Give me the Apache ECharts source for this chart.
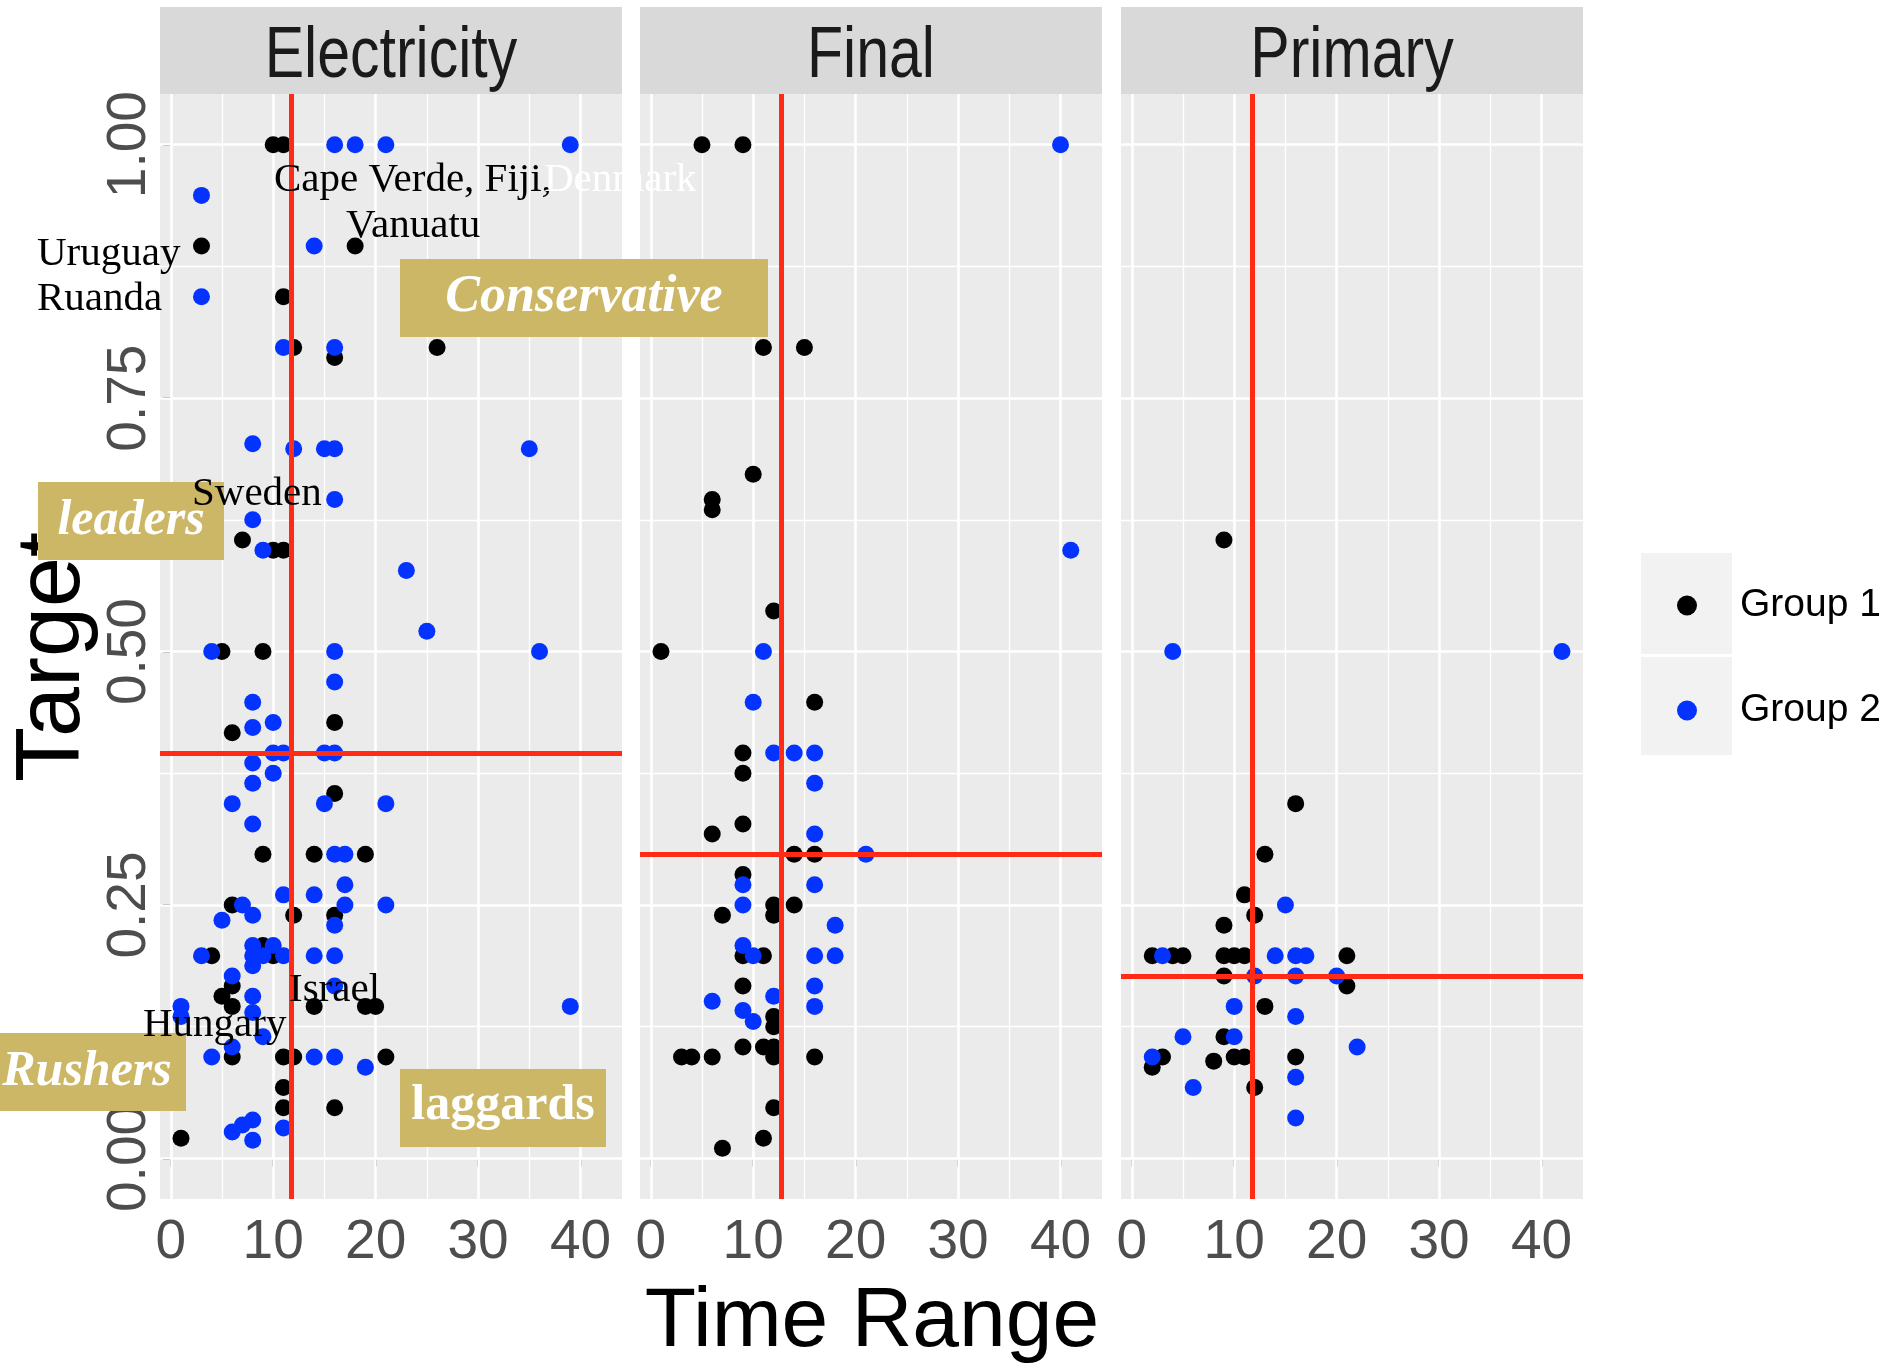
<!DOCTYPE html>
<html><head><meta charset="utf-8">
<script src="https://cdn.jsdelivr.net/npm/echarts@6/dist/echarts.min.js"></script>
<style>html,body{margin:0;padding:0;background:#fff;}#chart{width:1886px;height:1372px;}</style>
</head><body><div id="chart"></div>
<script>
// ---------- data ----------
const panelNames = ['Electricity', 'Final', 'Primary'];
const groupNames = ['Group 1', 'Group 2'];
const xTicks = [0, 10, 20, 30, 40];
const xMinorTicks = [5, 15, 25, 35];
const yTicks = [0, 0.25, 0.5, 0.75, 1];
const yMinorTicks = [0.125, 0.375, 0.625, 0.875];
const xRange = [-1.05, 44.05];
const yRange = [-0.04, 1.05];

const elecGroup1 = [
  [10,1.00],[11,1.00],[3,0.90],[18,0.90],[11,0.85],[12,0.80],[16,0.79],[26,0.80],
  [7,0.61],[10,0.60],[11,0.60],[5,0.50],[9,0.50],[16,0.43],[6,0.42],[16,0.36],
  [9,0.30],[14,0.30],[19,0.30],[6,0.25],[12,0.24],[16,0.24],[9,0.21],[10,0.20],[4,0.20],
  [6,0.17],[5,0.16],[6,0.15],[14,0.15],[19,0.15],[20,0.15],
  [6,0.10],[11,0.10],[12,0.10],[21,0.10],[11,0.07],[11,0.05],[16,0.05],[1,0.02]
];
const elecGroup2 = [
  [16,1.00],[18,1.00],[21,1.00],[39,1.00],[3,0.95],[14,0.90],[3,0.85],[11,0.80],[16,0.80],
  [8,0.705],[12,0.70],[15,0.70],[16,0.70],[35,0.70],[16,0.65],[8,0.63],[9,0.60],[23,0.58],[25,0.52],
  [4,0.50],[16,0.50],[36,0.50],[16,0.47],[8,0.45],[10,0.43],[8,0.425],
  [10,0.40],[11,0.40],[15,0.40],[16,0.40],[8,0.39],[10,0.38],[8,0.37],
  [6,0.35],[15,0.35],[21,0.35],[8,0.33],[16,0.30],[17,0.30],[17,0.27],[11,0.26],[14,0.26],
  [7,0.25],[17,0.25],[21,0.25],[8,0.24],[5,0.235],[16,0.23],
  [8,0.21],[10,0.21],[8,0.20],[9,0.20],[11,0.20],[8,0.19],[3,0.20],[14,0.20],[16,0.20],
  [16,0.17],[6,0.18],[8,0.16],[1,0.15],[39,0.15],[1,0.14],[8,0.144],
  [9,0.12],[6,0.11],[4,0.10],[14,0.10],[16,0.10],[19,0.09],
  [8,0.038],[7,0.033],[6,0.026],[8,0.018],[11,0.03]
];
const finalGroup1 = [
  [5,1.00],[9,1.00],[11,0.80],[15,0.80],[10,0.675],[6,0.65],[6,0.64],[12,0.54],[1,0.50],[16,0.45],
  [9,0.40],[9,0.38],[9,0.33],[6,0.32],[14,0.30],[16,0.30],[9,0.28],
  [12,0.25],[14,0.25],[12,0.24],[7,0.24],[9,0.20],[11,0.20],[9,0.17],[12,0.14],[12,0.13],
  [9,0.11],[11,0.11],[12,0.11],[3,0.10],[4,0.10],[6,0.10],[12,0.10],[16,0.10],[12,0.05],[11,0.02],[7,0.01]
];
const finalGroup2 = [
  [40,1.00],[41,0.60],[11,0.50],[10,0.45],[12,0.40],[14,0.40],[16,0.40],[16,0.37],[16,0.32],[21,0.30],
  [9,0.27],[16,0.27],[9,0.25],[18,0.23],[9,0.21],[10,0.20],[16,0.20],[18,0.20],
  [16,0.17],[12,0.16],[6,0.155],[9,0.146],[16,0.15],[10,0.135]
];
const primaryGroup1 = [
  [9,0.61],[16,0.35],[13,0.30],[11,0.26],[12,0.24],[9,0.23],
  [2,0.20],[4,0.20],[5,0.20],[9,0.20],[10,0.20],[11,0.20],[21,0.20],
  [9,0.18],[21,0.17],[13,0.15],[9,0.12],[3,0.10],[2,0.09],[8,0.096],[10,0.10],[11,0.10],[16,0.10],[12,0.07]
];
const primaryGroup2 = [
  [4,0.50],[42,0.50],[15,0.25],[3,0.20],[14,0.20],[16,0.20],[17,0.20],[12,0.18],[16,0.18],[20,0.18],
  [10,0.15],[16,0.14],[5,0.12],[10,0.12],[22,0.11],[2,0.10],[16,0.08],[6,0.07],[16,0.04]
];
// reference (median) lines per panel
const refLineX = [11.8, 12.7, 11.8];
const refLineY = [0.40, 0.30, 0.18];

const panelData = [[elecGroup1, elecGroup2], [finalGroup1, finalGroup2], [primaryGroup1, primaryGroup2]];

// ---------- styling ----------
const SANS = "'Liberation Sans',Arial,Helvetica,sans-serif";
const SERIF = "'Liberation Serif','Times New Roman',serif";
const groupColors = ['#000000', '#0433FF'];
const GOLD = '#CCB766';
const panelLeft = [160, 640, 1121];
const panelTop = 94, panelW = 462, panelH = 1105;

const grids = [], xAxes = [], yAxes = [], series = [];
for (let i = 0; i < 3; i++) {
  grids.push({left: panelLeft[i], top: panelTop, width: panelW, height: panelH,
    show: true, backgroundColor: '#EBEBEB', borderWidth: 0, containLabel: false, outerBoundsMode: 'none'});
  xAxes.push({type: 'value', gridIndex: i, min: xRange[0], max: xRange[1],
    axisLine: {show: false}, splitLine: {show: false},
    axisTick: {show: true, customValues: xTicks, length: 8, lineStyle: {color: '#333333', width: 2}},
    axisLabel: {show: true, customValues: xTicks, margin: 16, fontFamily: SANS, fontSize: 55, color: '#4D4D4D'}});
  yAxes.push({type: 'value', gridIndex: i, min: yRange[0], max: yRange[1],
    axisLine: {show: false}, splitLine: {show: false},
    axisTick: {show: i === 0, customValues: yTicks, length: 8, lineStyle: {color: '#333333', width: 2}},
    axisLabel: {show: i === 0, customValues: yTicks, rotate: 90, margin: 3, fontFamily: SANS, fontSize: 55,
      color: '#4D4D4D', formatter: v => Number(v).toFixed(2)}});
  const gl = [];
  xMinorTicks.forEach(v => gl.push({xAxis: v, lineStyle: {color: '#FFFFFF', width: 1.3, type: 'solid'}}));
  yMinorTicks.forEach(v => gl.push({yAxis: v, lineStyle: {color: '#FFFFFF', width: 1.3, type: 'solid'}}));
  xTicks.forEach(v => gl.push({xAxis: v, lineStyle: {color: '#FFFFFF', width: 2.6, type: 'solid'}}));
  yTicks.forEach(v => gl.push({yAxis: v, lineStyle: {color: '#FFFFFF', width: 2.6, type: 'solid'}}));
  series.push({type: 'scatter', name: 'grid' + i, xAxisIndex: i, yAxisIndex: i, data: [], silent: true,
    markLine: {silent: true, z: 1, symbol: ['none', 'none'], label: {show: false}, animation: false,
      emphasis: {disabled: true}, lineStyle: {type: 'solid'}, data: gl}});
  for (let g = 0; g < 2; g++) {
    series.push({type: 'scatter', name: groupNames[g], xAxisIndex: i, yAxisIndex: i, z: 3,
      data: panelData[i][g], symbol: 'circle', symbolSize: 17,
      itemStyle: {color: groupColors[g], opacity: 1}, emphasis: {disabled: true}});
  }
  series.push({type: 'scatter', name: 'ref' + i, xAxisIndex: i, yAxisIndex: i, data: [], silent: true,
    markLine: {silent: true, z: 6, symbol: ['none', 'none'], label: {show: false}, animation: false,
      emphasis: {disabled: true}, lineStyle: {type: 'solid', color: '#FF2B14', width: 5},
      data: [{xAxis: refLineX[i]}, {yAxis: refLineY[i]}]}});
}

function txt(text, x, y, opts) {
  const o = Object.assign({font: SERIF, size: 41, color: '#000', align: 'left', weight: 'normal', style: 'normal', z: 100, rot: 0, sx: 1}, opts || {});
  return {type: 'text', x: x, y: y, z: o.z, rotation: o.rot, scaleX: o.sx, silent: true,
    style: {text: text, fill: o.color, fontFamily: o.font, fontSize: o.size, fontWeight: o.weight, fontStyle: o.style,
      align: o.align, verticalAlign: 'middle', textAlign: o.align, textVerticalAlign: 'middle'}};
}
function box(x, y, w, h) {
  return {type: 'rect', z: 99, silent: true, shape: {x: x, y: y, width: w, height: h}, style: {fill: GOLD}};
}

const graphics = [];
// strips
for (let i = 0; i < 3; i++) {
  graphics.push({type: 'rect', z: 0, silent: true, shape: {x: panelLeft[i], y: 7, width: panelW, height: 87}, style: {fill: '#D9D9D9'}});
  graphics.push(txt(panelNames[i], panelLeft[i] + panelW / 2, 57, {font: SANS, size: 72, sx: 0.82, color: '#1A1A1A', align: 'center', z: 1}));
}
// legend key backgrounds
graphics.push({type: 'rect', z: 0, silent: true, shape: {x: 1641, y: 553, width: 91, height: 101}, style: {fill: '#F2F2F2'}});
graphics.push({type: 'rect', z: 0, silent: true, shape: {x: 1641, y: 657, width: 91, height: 98}, style: {fill: '#F2F2F2'}});
// axis titles
graphics.push(txt('Time Range', 872, 1323, {font: SANS, size: 84, color: '#000', align: 'center', z: 1}));
graphics.push(txt('Target', 54, 657, {font: SANS, size: 90, color: '#000', align: 'center', z: 1, rot: Math.PI / 2}));
// country annotations
graphics.push(txt('Cape Verde, Fiji,', 274, 180));
graphics.push(txt('Denmark', 544, 180, {color: '#FFFFFF'}));
graphics.push(txt('Vanuatu', 346, 226));
graphics.push(txt('Uruguay', 37, 254));
graphics.push(txt('Ruanda', 37, 299));
graphics.push(txt('Sweden', 192, 494));
graphics.push(txt('Israel', 289, 990));
graphics.push(txt('Hungary', 143, 1025));
// category boxes
graphics.push(box(400, 259, 368, 78));
graphics.push(txt('Conservative', 584, 298, {size: 52, color: '#FFFFFF', align: 'center', weight: 'bold', style: 'italic', z: 101}));
graphics.push(box(38, 482, 186, 78));
graphics.push(txt('leaders', 131, 521, {size: 50, color: '#FFFFFF', align: 'center', weight: 'bold', style: 'italic', z: 101}));
graphics.push(box(0, 1033, 186, 78));
graphics.push(txt('Rushers', 87, 1072, {size: 50, color: '#FFFFFF', align: 'center', weight: 'bold', style: 'italic', z: 101}));
graphics.push(box(400, 1069, 206, 78));
graphics.push(txt('laggards', 503, 1106, {size: 50, color: '#FFFFFF', align: 'center', weight: 'bold', z: 101}));

const legendCommon = {orient: 'vertical', left: 1677, itemWidth: 96, itemHeight: 20, icon: 'circle', padding: 0,
  selectedMode: false, textStyle: {fontFamily: SANS, fontSize: 39, color: '#000000'}};

const chart = echarts.init(document.getElementById('chart'), null, {renderer: 'canvas', width: 1886, height: 1372});
chart.setOption({
  animation: false,
  backgroundColor: '#FFFFFF',
  grid: grids, xAxis: xAxes, yAxis: yAxes, series: series,
  legend: [
    Object.assign({}, legendCommon, {data: ['Group 1'], top: 586}),
    Object.assign({}, legendCommon, {data: ['Group 2'], top: 691})
  ],
  graphic: {elements: graphics}
});
</script></body></html>
